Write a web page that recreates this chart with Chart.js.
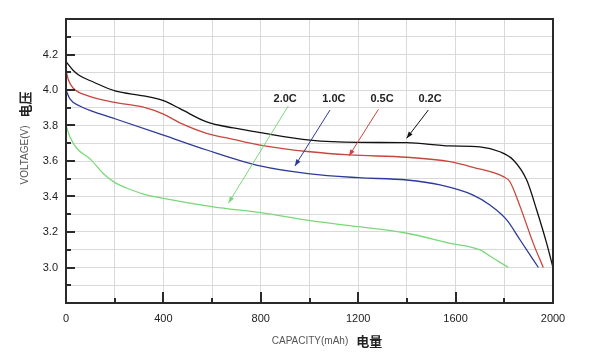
<!DOCTYPE html>
<html>
<head>
<meta charset="utf-8">
<script src="https://cdn.jsdelivr.net/npm/chart.js@4.4.0/dist/chart.umd.min.js"></script>
<style>
  body { margin: 0; background: #fff; }
  #wrap { width: 600px; height: 358px; }
</style>
</head>
<body>
<div id="wrap"><canvas id="dischargeChart" width="600" height="358"></canvas></div>
<script>
// discharge curves (capacity mAh / voltage V)
const cap02 = [0, 30, 57, 112, 201, 318, 400, 468, 578, 687, 797, 1002, 1200, 1400, 1577, 1700, 1782, 1837, 1892, 1933, 1974, 2000];
const volt02 = [4.16, 4.11, 4.08, 4.045, 3.995, 3.967, 3.94, 3.895, 3.82, 3.786, 3.76, 3.718, 3.705, 3.703, 3.685, 3.68, 3.652, 3.606, 3.493, 3.324, 3.136, 3.0];

const cap05 = [0, 10, 30, 85, 201, 318, 400, 468, 578, 687, 797, 1002, 1166, 1400, 1577, 1672, 1796, 1823, 1865, 1919, 1960];
const volt05 = [4.11, 4.056, 4.01, 3.97, 3.93, 3.903, 3.864, 3.815, 3.756, 3.722, 3.69, 3.652, 3.634, 3.621, 3.596, 3.564, 3.512, 3.483, 3.343, 3.136, 3.0];

const cap10 = [0, 16, 57, 140, 201, 400, 578, 797, 1002, 1200, 1400, 1536, 1672, 1741, 1810, 1865, 1940];
const volt10 = [4.0, 3.95, 3.91, 3.865, 3.838, 3.746, 3.662, 3.572, 3.527, 3.506, 3.493, 3.465, 3.408, 3.352, 3.268, 3.155, 3.0];

const cap20 = [0, 16, 44, 99, 153, 201, 249, 318, 400, 605, 800, 1002, 1200, 1400, 1577, 1700, 1755, 1817];
const volt20 = [3.8, 3.737, 3.672, 3.612, 3.53, 3.478, 3.448, 3.414, 3.39, 3.342, 3.309, 3.264, 3.23, 3.193, 3.136, 3.099, 3.052, 3.0];

const rateLabels = ['2.0C', '1.0C', '0.5C', '0.2C'];
const rateColors = ['#7ad87a', '#2e3a98', '#c8463c', '#111111'];
// label position and arrow start/end, in data units
const labelCap = [900, 1100, 1298, 1495];
const labelVolt = [3.949, 3.949, 3.949, 3.949];
const arrowFrom = [[913, 3.91], [1084, 3.887], [1283, 3.891], [1488, 3.887]];
const arrowTo = [[667, 3.363], [940, 3.572], [1162, 3.628], [1399, 3.728]];

const yLabelTicks = [3.0, 3.2, 3.4, 3.6, 3.8, 4.0, 4.2];

function toPoints(xs, ys) {
  return xs.map((x, i) => ({ x: x, y: ys[i] }));
}

function makeSet(xs, ys, color) {
  return {
    data: toPoints(xs, ys),
    borderColor: color,
    borderWidth: 1.3,
    pointRadius: 0,
    fill: false,
    cubicInterpolationMode: 'monotone',
  };
}

function isMajorY(v) {
  return yLabelTicks.some((t) => Math.abs(t - v) < 0.001);
}

// frame, inward tick marks, arrows and the axis titles
const extrasPlugin = {
  id: 'extras',
  afterDraw(chart) {
    const ctx = chart.ctx;
    const xs = chart.scales.x;
    const ys = chart.scales.y;
    const a = chart.chartArea;
    ctx.save();

    // frame
    ctx.strokeStyle = '#2a2a2a';
    ctx.lineWidth = 2;
    ctx.strokeRect(a.left, a.top, a.right - a.left, a.bottom - a.top);

    // ticks pointing inward
    ctx.lineWidth = 2;
    for (let v = 2.9; v < 4.35; v += 0.1) {
      const py = Math.round(ys.getPixelForValue(v));
      const len = isMajorY(Math.round(v * 10) / 10) ? 9 : 5;
      ctx.beginPath();
      ctx.moveTo(a.left, py);
      ctx.lineTo(a.left + len, py);
      ctx.stroke();
    }
    for (let c = 200; c < 2000; c += 200) {
      const px = Math.round(xs.getPixelForValue(c));
      const len = c % 400 === 0 ? 11 : 5;
      ctx.beginPath();
      ctx.moveTo(px, a.bottom);
      ctx.lineTo(px, a.bottom - len);
      ctx.stroke();
    }

    // rate labels with arrows
    ctx.font = 'bold 11px "Liberation Sans", Arial, sans-serif';
    ctx.textAlign = 'center';
    ctx.textBaseline = 'middle';
    rateLabels.forEach((lab, i) => {
      ctx.fillStyle = '#222';
      ctx.fillText(lab, xs.getPixelForValue(labelCap[i]), ys.getPixelForValue(labelVolt[i]));
      const x1 = xs.getPixelForValue(arrowFrom[i][0]);
      const y1 = ys.getPixelForValue(arrowFrom[i][1]);
      const x2 = xs.getPixelForValue(arrowTo[i][0]);
      const y2 = ys.getPixelForValue(arrowTo[i][1]);
      ctx.strokeStyle = rateColors[i];
      ctx.fillStyle = rateColors[i];
      ctx.lineWidth = 1;
      ctx.beginPath();
      ctx.moveTo(x1, y1);
      ctx.lineTo(x2, y2);
      ctx.stroke();
      const ang = Math.atan2(y2 - y1, x2 - x1);
      ctx.beginPath();
      ctx.moveTo(x2, y2);
      ctx.lineTo(x2 - 7 * Math.cos(ang - 0.35), y2 - 7 * Math.sin(ang - 0.35));
      ctx.lineTo(x2 - 7 * Math.cos(ang + 0.35), y2 - 7 * Math.sin(ang + 0.35));
      ctx.closePath();
      ctx.fill();
    });

    // axis titles (latin + chinese)
    const latinFont = '10px "Liberation Sans", Arial, sans-serif';
    const cjkFont = 'bold 13px "Noto Sans CJK SC", sans-serif';
    function drawTitle(latin, cjk, cx, cy, rot) {
      ctx.save();
      ctx.translate(cx, cy);
      ctx.rotate(rot);
      ctx.textBaseline = 'middle';
      ctx.textAlign = 'left';
      ctx.font = latinFont;
      const w1 = ctx.measureText(latin).width;
      ctx.font = cjkFont;
      const w2 = ctx.measureText(cjk).width;
      const gap = 8;
      let x = -(w1 + gap + w2) / 2;
      ctx.font = latinFont;
      ctx.fillStyle = '#555';
      ctx.fillText(latin, x, 0);
      ctx.font = cjkFont;
      ctx.fillStyle = '#222';
      ctx.fillText(cjk, x + w1 + gap, 0);
      ctx.restore();
    }
    drawTitle('CAPACITY(mAh)', '电量', 327, 341, 0);
    drawTitle('VOLTAGE(V)', '电压', 25, 138, -Math.PI / 2);

    ctx.restore();
  },
};

const ctx = document.getElementById('dischargeChart').getContext('2d');
const myChart = new Chart(ctx, {
  type: 'line',
  data: {
    datasets: [
      makeSet(cap20, volt20, rateColors[0]),
      makeSet(cap10, volt10, rateColors[1]),
      makeSet(cap05, volt05, rateColors[2]),
      makeSet(cap02, volt02, rateColors[3]),
    ],
  },
  options: {
    responsive: false,
    animation: false,
    layout: { padding: { left: 0, top: 19, right: 47, bottom: 0 } },
    plugins: {
      legend: { display: false },
      tooltip: { enabled: false },
    },
    scales: {
      x: {
        type: 'linear',
        min: 0,
        max: 2000,
        afterFit: (scale) => { scale.height = 55; },
        grid: { color: '#d9d9d9', lineWidth: 1, drawTicks: false },
        border: { display: false },
        ticks: {
          stepSize: 200,
          padding: 9,
          color: '#222',
          font: { family: '"Liberation Sans", Arial, sans-serif', size: 11 },
          autoSkip: false,
          maxRotation: 0,
          callback: (v) => (v % 400 === 0 ? String(v) : ''),
        },
      },
      y: {
        min: 2.8,
        max: 4.4,
        afterFit: (scale) => { scale.width = 66; },
        grid: { color: '#d9d9d9', lineWidth: 1, drawTicks: false },
        border: { display: false },
        ticks: {
          stepSize: 0.1,
          padding: 8,
          color: '#222',
          font: { family: '"Liberation Sans", Arial, sans-serif', size: 11 },
          autoSkip: false,
          callback: (v) => (isMajorY(v) ? v.toFixed(1) : ''),
        },
      },
    },
  },
  plugins: [extrasPlugin],
});
</script>
</body>
</html>
